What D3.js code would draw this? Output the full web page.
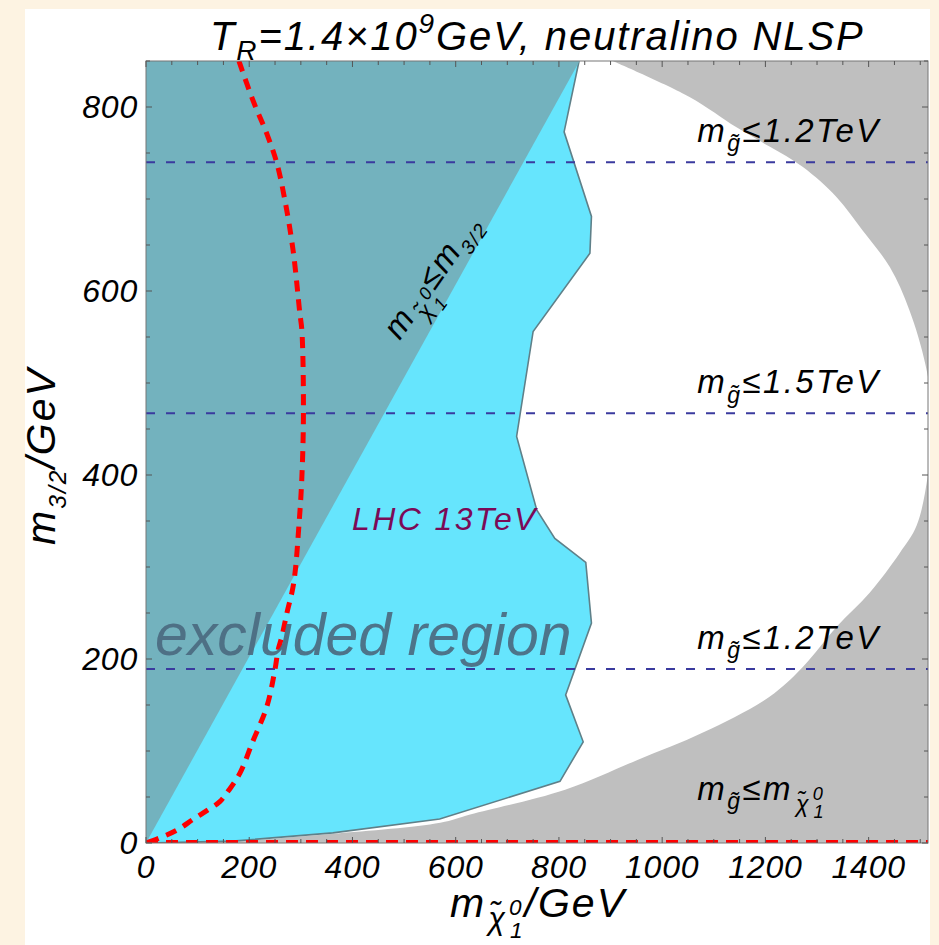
<!DOCTYPE html>
<html lang="en">
<head>
    <meta charset="UTF-8">
    <title>TR = 1.4e9 GeV, neutralino NLSP</title>
    <script src="https://d3js.org/d3.v7.min.js"></script>
    <style>
        body { margin: 0; background: #fdf3e2; }
        text { font-family: "Liberation Sans", Arial, sans-serif; font-style: italic; }
    </style>
</head>
<body>
    <div id="chart-container"></div>
    <script>
        // ---- data (m_chi in GeV, m_3/2 in GeV) ----
        const xTickValues = [0, 200, 400, 600, 800, 1000, 1200, 1400];
        const yTickValues = [0, 200, 400, 600, 800];

        // horizontal gluino-mass contours (m_3/2 values)
        const gluinoLines = [740, 467, 189];
        const gluinoLabels = ["1.2TeV", "1.5TeV", "1.2TeV"];

        // LHC 13 TeV exclusion boundary
        const lhcBoundary = [[839, 850], [810, 773], [863, 681], [860, 641], [750, 556], [718, 442],
            [757, 362], [792, 331], [852, 305], [863, 239], [813, 161], [847, 110], [802, 67],
            [569, 26], [362, 11], [168, 2], [0, 0]];

        // edge of the allowed (white) region, gray outside
        const allowedBoundary = [[904, 850], [1053, 811], [1144, 778], [1208, 757], [1272, 735],
            [1338, 702], [1388, 666], [1441, 626], [1479, 579], [1510, 520], [1524, 465],
            [1516, 405], [1493, 345], [1460, 315], [1402, 272], [1338, 235], [1272, 191],
            [1208, 159], [1079, 120], [951, 90], [812, 58], [628, 31], [570, 22], [362, 10],
            [168, 2], [0, 0]];

        // m_chi = m_3/2 line
        const excludedLine = [[0, 0], [840, 850]];

        // red dashed curve
        const redCurve = [[180, 850], [208, 806], [234, 771], [253, 740], [269, 699], [285, 644],
            [298, 576], [302, 557], [305, 467], [302, 398], [297, 351], [286, 282], [273, 250],
            [263, 224], [256, 210], [250, 189], [234, 148], [208, 112], [182, 76], [160, 57],
            [143, 45], [120, 36], [92, 26], [60, 14], [20, 4], [0, 0]];

        const xMax = 1515, yMax = 850;

        // ---- layout ----
        const W = 939, H = 945;
        const margins = { top: 61, right: 11, bottom: 102, left: 146 };
        const width = W - margins.left - margins.right;
        const height = H - margins.top - margins.bottom;

        const svg = d3.select("#chart-container").append("svg")
            .attr("width", W).attr("height", H);

        // white panel
        svg.append("rect").attr("x", 25).attr("y", 9).attr("width", 905).attr("height", H - 9)
            .attr("fill", "#fff");

        const g = svg.append("g").attr("transform", `translate(${margins.left},${margins.top})`);

        const x = d3.scaleLinear().domain([0, xMax]).range([0, width]);
        const y = d3.scaleLinear().domain([0, yMax]).range([height, 0]);

        g.append("clipPath").attr("id", "plot-clip")
            .append("rect").attr("width", width).attr("height", height);
        const plot = g.append("g").attr("clip-path", "url(#plot-clip)");

        // gray background then white allowed region
        plot.append("rect").attr("width", width).attr("height", height).attr("fill", "#bfbfbf");

        const smooth = d3.line().x(d => x(d[0])).y(d => y(d[1])).curve(d3.curveCatmullRom);
        const straight = d3.line().x(d => x(d[0])).y(d => y(d[1]));

        plot.append("path")
            .attr("d", smooth(allowedBoundary) + `L${x(0)},${y(yMax)}Z`)
            .attr("fill", "#fff");

        // LHC region
        plot.append("path")
            .attr("d", straight(lhcBoundary.concat([[0, yMax]])) + "Z")
            .attr("fill", "#66e5fd");
        plot.append("path")
            .attr("d", straight(lhcBoundary))
            .attr("fill", "none").attr("stroke", "#5f8089").attr("stroke-width", 1.6);

        // excluded triangle (m_chi > m_3/2 not allowed)
        plot.append("path")
            .attr("d", straight(excludedLine.concat([[0, yMax]])) + "Z")
            .attr("fill", "#73b2be");

        // gluino contours
        plot.selectAll(".gline").data(gluinoLines).enter().append("line")
            .attr("class", "gline")
            .attr("x1", 0).attr("x2", width)
            .attr("y1", d => y(d)).attr("y2", d => y(d))
            .attr("stroke", "#3a3a9e").attr("stroke-width", 2)
            .attr("stroke-dasharray", "9,11");

        // red dashed curve and red line on m_3/2 = 0
        plot.append("path").attr("d", smooth(redCurve))
            .attr("fill", "none").attr("stroke", "#ff0000").attr("stroke-width", 5)
            .attr("stroke-dasharray", "11,8");
        plot.append("line")
            .attr("x1", 0).attr("x2", width).attr("y1", y(0) - 1.5).attr("y2", y(0) - 1.5)
            .attr("stroke", "#ff0000").attr("stroke-width", 3)
            .attr("stroke-dasharray", "12,8");

        // frame and ticks
        g.append("rect").attr("width", width).attr("height", height)
            .attr("fill", "none").attr("stroke", "#777").attr("stroke-width", 1);

        const minorX = d3.range(0, xMax + 1, 50);
        const minorY = d3.range(0, yMax + 1, 50);
        const tickLen = v => (v % 200 === 0 ? 6 : 4);
        const ticks = g.append("g").attr("stroke", "#555").attr("stroke-width", 1);
        minorX.forEach(v => {
            ticks.append("line").attr("x1", x(v)).attr("x2", x(v)).attr("y1", height).attr("y2", height - tickLen(v));
            ticks.append("line").attr("x1", x(v)).attr("x2", x(v)).attr("y1", 0).attr("y2", tickLen(v));
        });
        minorY.forEach(v => {
            ticks.append("line").attr("y1", y(v)).attr("y2", y(v)).attr("x1", 0).attr("x2", tickLen(v));
            ticks.append("line").attr("y1", y(v)).attr("y2", y(v)).attr("x1", width).attr("x2", width - tickLen(v));
        });

        // tick labels
        g.selectAll(".xlab").data(xTickValues).enter().append("text")
            .attr("class", "xlab")
            .attr("x", d => x(d)).attr("y", height + 35)
            .attr("text-anchor", "middle").attr("font-size", 32).attr("letter-spacing", 0.8)
            .text(d => d);
        g.selectAll(".ylab").data(yTickValues).enter().append("text")
            .attr("class", "ylab")
            .attr("x", -8).attr("y", d => y(d) + 11)
            .attr("text-anchor", "end").attr("font-size", 32).attr("letter-spacing", 0.8)
            .text(d => d);

        // rich text helper: parts = [text, scale, shift (em, down +), dx (em)]
        function rich(sel, parts, size) {
            let cur = 0;
            parts.forEach(p => {
                const [t, sc, sh, dx] = p;
                sel.append("tspan")
                    .attr("font-size", size * sc)
                    .attr("dy", (sh - cur) * size)
                    .attr("dx", (dx || 0) * size)
                    .text(t);
                cur = sh;
            });
            return sel;
        }

        // title
        rich(svg.append("text").attr("x", 210).attr("y", 50).attr("letter-spacing", 1.9), [
            ["T", 1, 0], ["R", 0.7, 0.25], ["=1.4×10", 1, 0], ["9", 0.7, -0.42],
            ["GeV, neutralino NLSP", 1, 0]
        ], 40);

        // axis labels
        rich(svg.append("text").attr("x", 538).attr("y", 917).attr("text-anchor", "middle")
            .attr("letter-spacing", 2), [
            ["m", 1, 0], ["χ̃", 0.75, 0.3, 0.05], ["0", 0.55, -0.05, 0.05], ["1", 0.55, 0.5, -0.33],
            ["/GeV", 1, 0]
        ], 41);
        rich(svg.append("text").attr("transform", "translate(55,456) rotate(-90)")
            .attr("text-anchor", "middle").attr("letter-spacing", 2), [
            ["m", 1, 0], ["3/2", 0.6, 0.28], ["/GeV", 1, 0]
        ], 41);

        // gluino labels
        gluinoLines.forEach((v, i) => {
            rich(g.append("text").attr("x", x(1068)).attr("y", y(v) - 20).attr("letter-spacing", 2.4), [
                ["m", 1, 0], ["g̃", 0.7, 0.28], ["≤" + gluinoLabels[i], 1, 0]
            ], 33);
        });
        rich(g.append("text").attr("x", x(1068)).attr("y", y(0) - 43).attr("letter-spacing", 2.4), [
            ["m", 1, 0], ["g̃", 0.7, 0.28], ["≤m", 1, 0], ["χ̃", 0.7, 0.35, 0.1],
            ["0", 0.55, 0.0, 0.05], ["1", 0.55, 0.55, -0.36]
        ], 33);

        // diagonal label
        rich(svg.append("text").attr("transform", "translate(441,282) rotate(-55)")
            .attr("text-anchor", "middle").attr("letter-spacing", 2), [
            ["m", 1, 0], ["χ̃", 0.7, 0.35, 0.08], ["0", 0.55, 0.0, 0.05], ["1", 0.55, 0.55, -0.36],
            ["≤m", 1, 0], ["3/2", 0.6, 0.28]
        ], 33);

        // region labels
        svg.append("text").attr("x", 352).attr("y", 530).attr("letter-spacing", 2.4)
            .attr("font-size", 32).attr("fill", "#7b0a57").text("LHC 13TeV");
        svg.append("text").attr("x", 155).attr("y", 655)
            .attr("font-size", 59).attr("fill", "#4b6a80").attr("fill-opacity", 0.92)
            .text("excluded region");
    </script>
</body>
</html>
